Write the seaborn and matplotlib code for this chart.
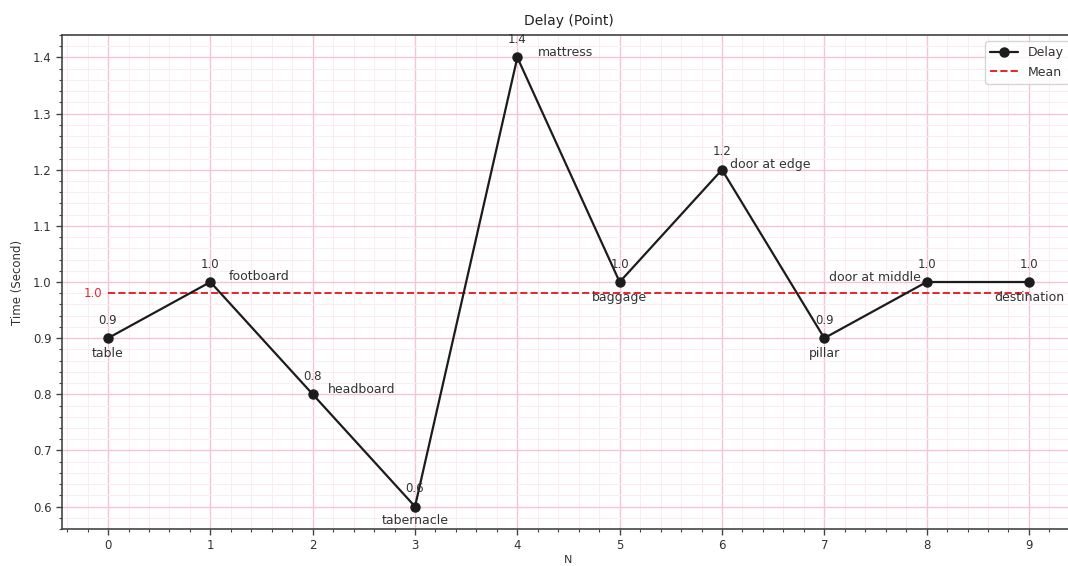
import matplotlib
matplotlib.use("Agg")
import matplotlib.pyplot as plt
from matplotlib.ticker import AutoMinorLocator, MultipleLocator
import seaborn as sns
import numpy as np

# Measured delay per checkpoint
steps = [0, 1, 2, 3, 4, 5, 6, 7, 8, 9]
delay = [0.9, 1.0, 0.8, 0.6, 1.4, 1.0, 1.2, 0.9, 1.0, 1.0]
places = ["table", "footboard", "headboard", "tabernacle", "mattress",
          "baggage", "door at edge", "pillar", "door at middle", "destination"]

# Placement of each place name relative to its point (pixels, alignment)
name_offsets = [(0, -15, "center"), (18, 6, "left"), (15, 5, "left"),
                (0, -14, "center"), (21, 5, "left"), (0, -15, "center"),
                (8, 5, "left"), (0, -15, "center"), (-6, 5, "right"),
                (0, -15, "center")]

sns.set_style("ticks")
plt.rcParams["font.family"] = ["DejaVu Sans"]

fig = plt.figure(figsize=(10.68, 5.66), dpi=100)
ax = fig.add_axes([62 / 1068, 37 / 566, (1075 - 62) / 1068, (529 - 35) / 566])

line_color = "#1c1c1c"
mean_color = "#e8242b"
text_color = "#333333"

sns.lineplot(x=steps, y=delay, ax=ax, color=line_color, marker="o",
             markersize=6.5, markeredgecolor=line_color, markeredgewidth=1,
             linewidth=1.6, label="Delay")

mean_val = float(np.mean(delay))
ax.plot([steps[0], steps[-1]], [mean_val, mean_val], color=mean_color,
        linestyle="--", linewidth=1.4, label="Mean", zorder=1.5)
ax.annotate(f"{mean_val:.1f}", (steps[0], mean_val), xytext=(-6, 0),
            textcoords="offset pixels", ha="right", va="center",
            color=mean_color, fontsize=8.5)

for x, y, name, (dx, dy, ha) in zip(steps, delay, places, name_offsets):
    ax.annotate(f"{y:.1f}", (x, y), xytext=(0, 18), textcoords="offset pixels",
                ha="center", va="center", fontsize=8.5, color=text_color)
    ax.annotate(name, (x, y), xytext=(dx, dy), textcoords="offset pixels",
                ha=ha, va="center", fontsize=9, color=text_color)

ax.set_xlim(-0.45, 9.45)
ax.set_ylim(0.56, 1.44)
ax.xaxis.set_major_locator(MultipleLocator(1))
ax.yaxis.set_major_locator(MultipleLocator(0.1))
ax.xaxis.set_minor_locator(AutoMinorLocator(5))
ax.yaxis.set_minor_locator(AutoMinorLocator(5))

ax.grid(which="major", color="#f7c3da", linewidth=1.0)
ax.grid(which="minor", color="#fcebf2", linewidth=0.7)
ax.set_axisbelow(True)

ax.tick_params(which="major", length=4, width=1, colors="#444444",
               labelsize=8.5, labelcolor=text_color)
ax.tick_params(which="minor", length=2, width=0.8, colors="#444444")
for side in ax.spines.values():
    side.set_color("#444444")
    side.set_linewidth(1.2)

ax.set_title("Delay (Point)", fontsize=10, color="#222222", pad=7)
ax.set_xlabel("N", fontsize=8, color=text_color, labelpad=2)
ax.set_ylabel("Time (Second)", fontsize=8.5, color=text_color, labelpad=6)

leg = ax.legend(loc="upper right", fontsize=9, frameon=True, fancybox=True,
                borderaxespad=0.5, handlelength=2.2)
for t in leg.get_texts():
    t.set_color(text_color)

fig.savefig("out.png", dpi=100)
